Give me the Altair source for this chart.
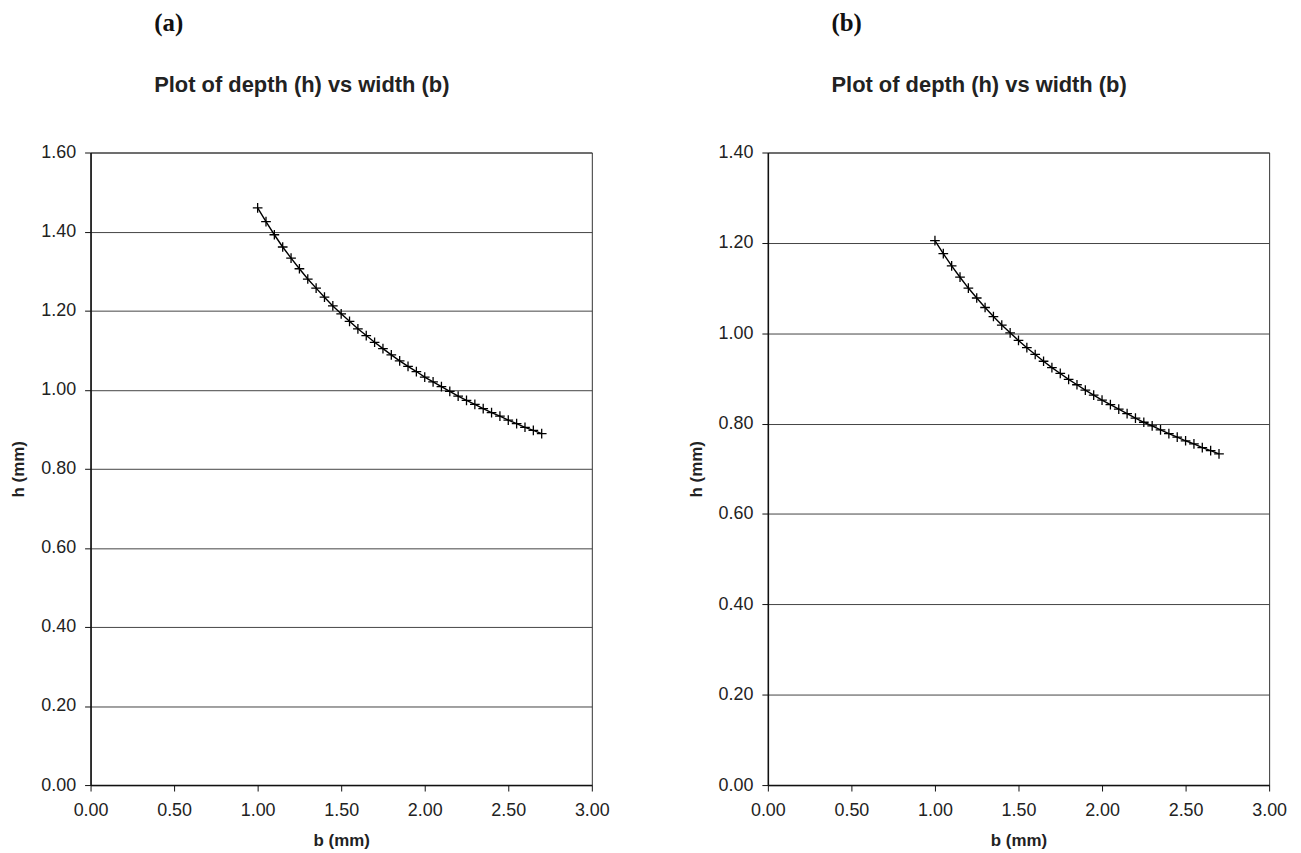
import altair as alt
import pandas as pd

# width b (mm)
b_vals = [1.00, 1.05, 1.10, 1.15, 1.20, 1.25, 1.30, 1.35, 1.40, 1.45,
          1.50, 1.55, 1.60, 1.65, 1.70, 1.75, 1.80, 1.85, 1.90, 1.95,
          2.00, 2.05, 2.10, 2.15, 2.20, 2.25, 2.30, 2.35, 2.40, 2.45,
          2.50, 2.55, 2.60, 2.65, 2.70]

# depth h (mm), panel (a)
h_a = [1.460, 1.425, 1.392, 1.361, 1.333, 1.306, 1.280, 1.257, 1.234, 1.212,
       1.192, 1.173, 1.154, 1.137, 1.120, 1.104, 1.088, 1.073, 1.059, 1.046,
       1.032, 1.020, 1.008, 0.996, 0.984, 0.973, 0.963, 0.952, 0.942, 0.933,
       0.923, 0.914, 0.905, 0.897, 0.889]

# depth h (mm), panel (b)
h_b = [1.205, 1.176, 1.149, 1.124, 1.100, 1.078, 1.057, 1.037, 1.018, 1.001,
       0.984, 0.968, 0.953, 0.938, 0.924, 0.911, 0.898, 0.886, 0.874, 0.863,
       0.852, 0.842, 0.832, 0.822, 0.812, 0.803, 0.795, 0.786, 0.778, 0.770,
       0.762, 0.755, 0.747, 0.740, 0.733]

x_ticks = [0.0, 0.5, 1.0, 1.5, 2.0, 2.5, 3.0]
ya_ticks = [0.0, 0.2, 0.4, 0.6, 0.8, 1.0, 1.2, 1.4, 1.6]
yb_ticks = [0.0, 0.2, 0.4, 0.6, 0.8, 1.0, 1.2, 1.4]

panel_tags = ["(a)", "(b)"]
panel_title = "Plot of depth (h) vs width (b)"

PLUS = "M-1,0L1,0M0,-1L0,1"
W, H = 504, 636


def panel(h, ymax, yticks, tag):
    df = pd.DataFrame({"b": b_vals, "h": h})
    x = alt.X("b:Q",
              scale=alt.Scale(domain=[0, 3], nice=False, zero=True),
              axis=alt.Axis(values=x_ticks, format=".2f", title="b (mm)",
                            grid=False, labelPadding=11, titlePadding=13))
    y = alt.Y("h:Q",
              scale=alt.Scale(domain=[0, ymax], nice=False, zero=True),
              axis=alt.Axis(values=yticks, format=".2f", title="h (mm)",
                            grid=True, titlePadding=13))
    line = alt.Chart(df).mark_line(color="black", strokeWidth=1.4).encode(x=x, y=y)
    pts = alt.Chart(df).mark_point(shape=PLUS, size=95, filled=False,
                                   stroke="black", strokeWidth=1.3,
                                   opacity=1).encode(x="b:Q", y="h:Q")
    return alt.layer(line, pts).properties(
        width=W, height=H,
        title=alt.TitleParams(
            text=tag,
            subtitle=panel_title,
            anchor="start",
            dx=145,
            font="Liberation Serif",
            fontSize=25,
            fontWeight="bold",
            color="#111",
            subtitleFont="Liberation Sans",
            subtitleFontSize=22,
            subtitleFontWeight="bold",
            subtitleColor="#222",
            subtitlePadding=39,
            offset=48,
        ),
    )


chart = alt.hconcat(
    panel(h_a, 1.6, ya_ticks, panel_tags[0]),
    panel(h_b, 1.4, yb_ticks, panel_tags[1]),
    spacing=76,
).properties(
    padding={"left": 1, "top": 0, "right": 5, "bottom": 0},
    background="white",
).configure_view(
    stroke="#333", strokeWidth=1
).configure_axis(
    domainColor="#111",
    domainWidth=1.5,
    tickColor="#111",
    tickSize=6,
    labelFont="Liberation Sans",
    labelFontSize=18,
    labelColor="#222",
    labelPadding=9,
    titleFont="Liberation Sans",
    titleFontSize=17,
    titleFontWeight="bold",
    titleColor="#222",
    gridColor="#444",
    gridWidth=1,
    labelFlush=False,
)

chart.save("out.html", embed_options={"renderer": "svg", "actions": False})
